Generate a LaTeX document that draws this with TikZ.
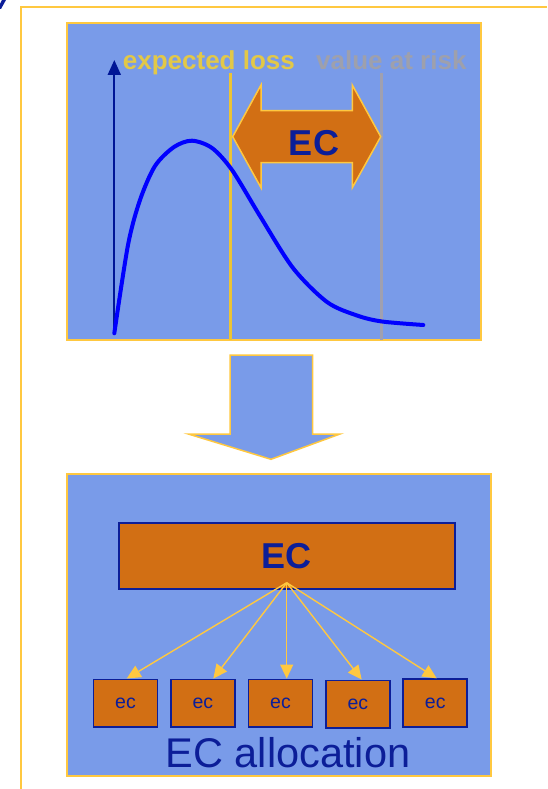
\documentclass[tikz,border=0pt]{standalone}
\usepackage{fontspec}
\setmainfont{Liberation Sans}
\usetikzlibrary{arrows.meta}
\definecolor{panelblue}{RGB}{121,155,233}
\definecolor{gold}{RGB}{255,200,64}
\definecolor{ecorange}{RGB}{210,111,20}
\definecolor{navy}{RGB}{12,30,152}
\definecolor{curveblue}{RGB}{0,0,255}
\definecolor{axisblue}{RGB}{0,22,150}
\definecolor{eltext}{RGB}{226,200,72}
\definecolor{elline}{RGB}{236,196,52}
\definecolor{vartext}{RGB}{158,160,172}
\definecolor{varline}{RGB}{160,160,176}
\tikzset{
  panel/.style={draw=gold, fill=panelblue, line width=2pt},
  ecbox/.style={draw=navy, fill=ecorange, line width=1.8pt, inner sep=0pt},
  smallec/.style={ecbox, minimum width=64pt, minimum height=47.5pt, font=\fontsize{19.5}{22}\selectfont, text=navy},
  alloc/.style={draw=gold, line width=1.4pt, -{Triangle[length=14pt,width=13pt]}},
}
\begin{document}
\begin{tikzpicture}[x=1pt,y=-1pt]
\useasboundingbox (0,0) rectangle (547,789);
\fill[white] (0,0) rectangle (547,789);
% outer frame
\draw[gold, line width=1.8pt] (547,7) -- (21,7) -- (21,789);
\fill[navy] (2,0) -- (6,0) -- (1,9) -- (0,9) -- (0,4) -- cycle;
% top panel
\draw[panel] (66.7,22.7) rectangle (480.7,340);
% axis
\draw[axisblue, line width=2pt, -{Triangle[length=15pt,width=13pt]}] (114.3,334) -- (114.3,60);
% lines
\draw[elline, line width=3pt] (230.7,73) -- (230.7,340);
\draw[varline, line width=3pt] (381.7,73) -- (381.7,340);
% labels
\node[anchor=base west, inner sep=0pt, text=eltext, font=\bfseries\fontsize{26}{30}\selectfont] (el) at (122.7,70) {expected loss};
\node[anchor=base west, inner sep=0pt, text=vartext, font=\bfseries\fontsize{26}{30}\selectfont] (var) at (316,70) {value at risk};
% curve
\draw[curveblue, line width=4pt, line cap=round] plot[smooth, tension=0.5] coordinates {
  (114.3,333.3) (128,245) (140,200) (155,166) (174,147) (192,140.7)
  (212,148) (232,170) (260,216) (293,268) (327,302) (357,315.5) (382,321.5) (423.3,325)};
% EC double arrow
\draw[draw=gold, fill=ecorange, line width=1.5pt, line join=miter]
  (232.7,136.7) -- (261,85) -- (261,110.7) -- (352.3,110.7) -- (352.3,85) -- (380.7,136.7)
  -- (352.3,187.7) -- (352.3,162.7) -- (261,162.7) -- (261,187.7) -- cycle;
\node[text=navy, font=\bfseries\fontsize{36}{40}\selectfont, inner sep=0pt] (ecarrow) at (314,143) {EC};
% down arrow
\draw[draw=gold, fill=panelblue, line width=1.5pt, line join=miter]
  (230,355) -- (312.7,355) -- (312.7,434) -- (340,434) -- (271,459.3) -- (188.3,434) -- (230,434) -- cycle;
% bottom panel
\draw[panel] (66.7,474) rectangle (490.7,776);
\node[ecbox, minimum width=335.7pt, minimum height=66pt, text=navy, font=\bfseries\fontsize{36}{40}\selectfont] (EC) at (286.8,555.7) {EC};
\node[smallec] (e1) at (125.5,703.2) {ec};
\node[smallec] (e2) at (202.8,703.2) {ec};
\node[smallec] (e3) at (280.5,703.2) {ec};
\node[smallec, yshift=-1pt] (e4) at (357.8,703.2) {ec};
\node[smallec] (e5) at (435.2,703) {ec};
\coordinate (src) at (286.7,582.7);
\draw[alloc] (src) -- ([xshift=1.2pt]e1.north);
\draw[alloc] (src) -- ([xshift=10.5pt]e2.north);
\draw[alloc] (src) -- ([xshift=6.2pt]e3.north);
\draw[alloc] (src) -- ([xshift=3.9pt]e4.north);
\draw[alloc] (src) -- ([xshift=1.5pt]e5.north);
\node[anchor=base, inner sep=0pt, text=navy, font=\fontsize{41.5}{46}\selectfont] (alloc) at (288,767.7) {EC allocation};
\end{tikzpicture}
\end{document}
